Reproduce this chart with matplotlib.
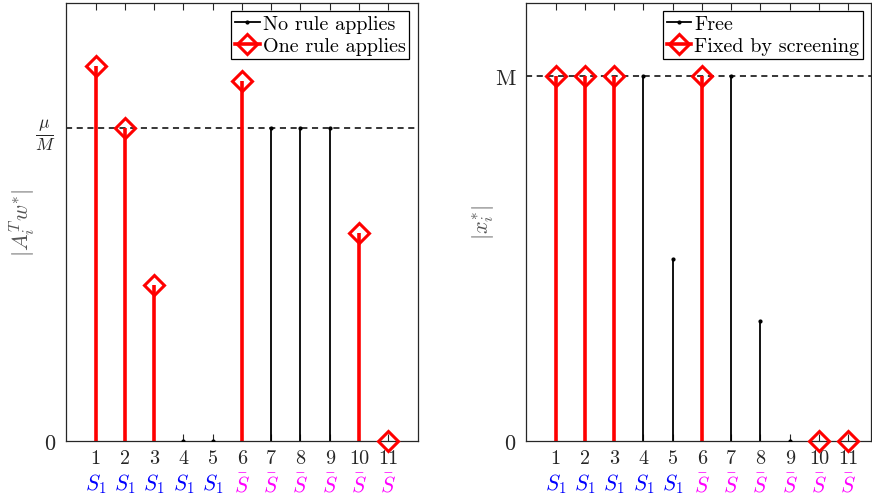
import numpy as np
import matplotlib.pyplot as plt
from matplotlib.lines import Line2D
from matplotlib.transforms import blended_transform_factory

plt.rcParams['font.family'] = 'cmr10'
plt.rcParams['mathtext.fontset'] = 'cm'
plt.rcParams['axes.unicode_minus'] = False
plt.rcParams['axes.formatter.use_mathtext'] = True

idx = np.arange(1, 12)
groups = ['S1'] * 5 + ['Sbar'] * 6

# left panel: |A_i^T w*| in units of mu/M
corr = [1.2, 1.0, 0.5, 0.0, 0.0, 1.15, 1.0, 1.0, 1.0, 0.665, 0.0]
corr_rule = [True, True, True, False, False, True, False, False, False, True, True]

# right panel: |x_i*| in units of M
xval = [1.0, 1.0, 1.0, 1.0, 0.5, 1.0, 1.0, 0.33, 0.0, 0.0, 0.0]
xval_fixed = [True, True, True, False, False, True, False, False, False, True, True]

grey = '#262626'


def stem_panel(ax, vals, flags, level, level_label, level_size, xmax, ymax,
               ylabel, labels):
    vals = np.array(vals)
    flags = np.array(flags)
    ax.axhline(level, color='k', ls=(0, (4, 3)), lw=1.1, zorder=1)
    free = ~flags
    ax.vlines(idx[free], 0, vals[free], color='k', lw=1.3, zorder=2)
    ax.plot(idx[free], vals[free], ls='none', marker='.', ms=4, color='k', zorder=3)
    ax.vlines(idx[flags], 0, vals[flags], color='red', lw=2.6, zorder=2)
    ax.plot(idx[flags], vals[flags], ls='none', marker='D', ms=10, mfc='none',
            mec='red', mew=2.2, zorder=4, clip_on=False)
    ax.set_xlim(0, xmax)
    ax.set_ylim(0, ymax)
    ax.set_xticks(idx)
    ax.set_xticklabels([str(i) for i in idx])
    ax.set_yticks([0, level])
    ax.set_yticklabels(['0', level_label])
    ax.tick_params(direction='in', top=True, right=False, length=5, width=0.8,
                   labelsize=14.5, colors=grey, pad=6)
    ax.tick_params(axis='y', length=0, pad=8, labelsize=16)
    ax.get_yticklabels()[1].set_fontsize(level_size)
    for s in ax.spines.values():
        s.set_color(grey)
        s.set_linewidth(0.9)
    ax.set_ylabel(ylabel, fontsize=16, color='#555555', va='center')
    ax.yaxis.set_label_coords(-0.124, 0.5)
    tr = blended_transform_factory(ax.transData, ax.transAxes)
    for i, g in zip(idx, groups):
        if g == 'S1':
            ax.text(i, -0.097, r'$S_1$', transform=tr, ha='center', va='center',
                    color='blue', fontsize=15.5)
        else:
            ax.text(i, -0.097, r'$\bar{S}$', transform=tr, ha='center', va='center',
                    color='magenta', fontsize=15.5)
    handles = [Line2D([0, 1], [0, 0], color='k', lw=1.3, marker='.', ms=4, markevery=[1]),
               Line2D([0, 1], [0, 0], color='red', lw=2.6, marker='D', ms=10, mfc='none',
                      mec='red', mew=2.2, markevery=[1])]
    leg = ax.legend(handles, labels, loc='upper right', fontsize=14.5,
                    frameon=True, fancybox=False, edgecolor='k', framealpha=1,
                    borderpad=0.2, handlelength=1.2, handletextpad=0.15,
                    labelspacing=0.2, borderaxespad=0.4)
    leg.get_frame().set_linewidth(0.9)


fig = plt.figure(figsize=(8.72, 5.02), dpi=100)
ax1 = fig.add_axes([0.0761, 0.1195, 0.4027, 0.8725])
ax2 = fig.add_axes([0.6037, 0.1195, 0.3952, 0.8725])

stem_panel(ax1, corr, corr_rule, 1.0, r'$\frac{\mu}{M}$', 18, 12, 1.4,
           r'$|A_i^T w^{*}|$', ['No rule applies', 'One rule applies'])
stem_panel(ax2, xval, xval_fixed, 1.0, 'M', 16, 11.78, 1.2,
           r'$|x_i^{*}|$', ['Free', 'Fixed by screening'])

fig.savefig('out.png', dpi=100)
